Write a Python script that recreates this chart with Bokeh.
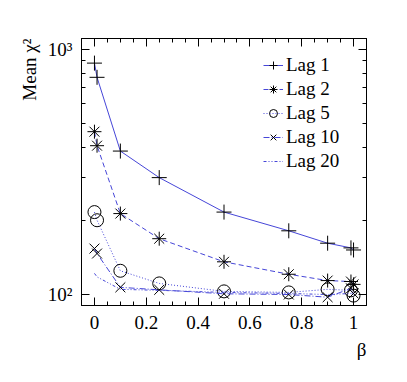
from bokeh.plotting import figure
from bokeh.models import (FixedTicker, SingleIntervalTicker, LinearAxis, LogAxis,
                          Legend, LegendItem, Title, CustomJSTickFormatter)
from bokeh.embed import file_html
from bokeh.resources import INLINE

# ---- data ----
beta = [0, 0.01, 0.1, 0.25, 0.5, 0.75, 0.9, 0.99, 1.0]
lag1 = [880, 770, 385, 300, 217, 182, 162, 155, 152]
lag2 = [462, 405, 214, 169, 136, 121, 114, 113, 110]
lag5 = [217, 201, 125, 111, 103, 102, 105, 104, 99]
lag10 = [154, 147, 107, 104.5, 100.7, 100, 97.5, 106, 101]
lag20 = [122, 118, 105, 104, 102, 101, 100, 101, 100]

series_names = ["Lag 1", "Lag 2", "Lag 5", "Lag 10", "Lag 20"]
y_major = [100, 1000]
y_minor = [200, 300, 400, 500, 600, 700, 800, 900]

FONT = "Liberation Serif"
FS = "19px"
BLUE = "#4646d8"

p = figure(width=399, height=374, x_range=(-0.05, 1.05), y_range=(90.2, 1109),
           y_axis_type="log", output_backend="svg", toolbar_location=None,
           min_border_left=81, min_border_right=33, min_border_top=38,
           min_border_bottom=69)
p.grid.visible = False
p.outline_line_color = "black"
p.outline_line_width = 1

xt = SingleIntervalTicker(interval=0.2, num_minor_ticks=4)
yt = FixedTicker(ticks=y_major, minor_ticks=y_minor)

def style(ax):
    ax.axis_line_color = "black"
    ax.axis_line_width = 1
    ax.major_tick_in = 8
    ax.major_tick_out = 0
    ax.minor_tick_in = 4
    ax.minor_tick_out = 0
    ax.major_tick_line_color = "black"
    ax.minor_tick_line_color = "black"
    ax.major_label_text_font = FONT
    ax.major_label_text_font_size = FS
    ax.major_label_text_color = "black"
    ax.major_label_text_font_style = "normal"

xa = p.xaxis[0]
xa.ticker = xt
style(xa)
xa.major_label_standoff = 10

ya = p.yaxis[0]
ya.ticker = yt
style(ya)
ya.major_label_standoff = 9
ya.major_label_overrides = {100: "10\u00b2", 1000: "10\u00b3"}

blank = CustomJSTickFormatter(code="return ''")
top = LinearAxis(ticker=xt, formatter=blank)
style(top)
top.major_label_standoff = 0
p.add_layout(top, "above")
right = LogAxis(ticker=yt, formatter=blank)
style(right)
right.major_label_standoff = 0
p.add_layout(right, "right")

ys = [lag1, lag2, lag5, lag10, lag20]
dashes = ["solid", "5 3", "1 2", "6 2 1 2", "3 2 1 2 1 2"]
markers = ["cross", "asterisk", "circle", "x", None]
sizes = [15, 14, 13, 14, 0]
items = []
for name, y, d, m, s in zip(series_names, ys, dashes, markers, sizes):
    r_line = p.line(beta, y, line_color=BLUE, line_width=1, line_dash=d)
    rs = [r_line]
    if m is not None:
        r_m = p.scatter(beta, y, marker=m, size=s, line_color="black",
                        line_width=1, fill_alpha=0)
        rs.append(r_m)
    items.append(LegendItem(label=name, renderers=rs))

legend = Legend(items=items, location=(182, 132), background_fill_alpha=0,
                border_line_alpha=0, padding=0, margin=0, spacing=-2,
                glyph_height=24, label_height=22, glyph_width=20,
                label_standoff=3, label_text_font=FONT,
                label_text_font_style="normal", label_text_font_size=FS,
                label_text_color="black")
p.add_layout(legend)

ytitle = Title(text="Mean \u03c7\u00b2", align="right", text_font=FONT,
               text_font_size=FS, text_font_style="normal", text_color="black",
               standoff=9)
p.add_layout(ytitle, "left")
xtitle = Title(text="\u03b2", align="right", text_font=FONT,
               text_font_size=FS, text_font_style="normal", text_color="black",
               standoff=10, offset=0)
p.add_layout(xtitle, "below")

open("out.html", "w").write(file_html(p, INLINE))
